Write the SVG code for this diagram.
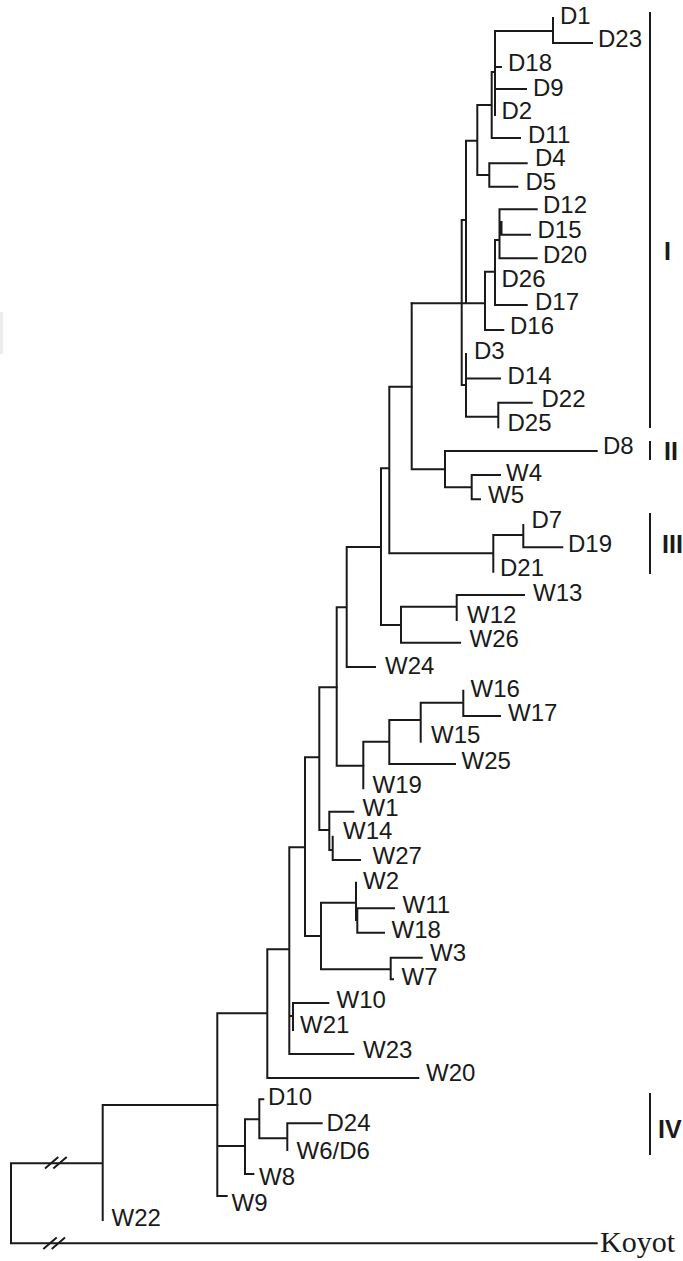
<svg xmlns="http://www.w3.org/2000/svg" width="683" height="1261" viewBox="0 0 683 1261">
<style>
.ln{fill:none;stroke:#1a1a1a;stroke-width:2;stroke-linecap:square}
.bar{fill:none;stroke:#1a1a1a;stroke-width:2}
.t{font-family:"Liberation Sans",Arial,sans-serif;font-size:24px;fill:#1a1a1a}
.k{font-family:"Liberation Serif","Times New Roman",serif;font-size:30px;fill:#1a1a1a}
.r{font-family:"Liberation Sans",Arial,sans-serif;font-size:25px;font-weight:bold;fill:#1a1a1a}
</style>
<rect x="0" y="312" width="3" height="42" fill="#ececec"/>
<g id="connectors" class="ln">
<path d="M553,18V43M553,43H592M495,31H553M495,31V115M495,67H501M495,89H526M491.7,72V138M491.7,72H495M491.7,138H520M477.3,105H491.7M477.3,105V175M477.3,175H489.3M489.3,163.3V186.7M489.3,163.3H526.7M489.3,186.7H517.3M466,140.7H477.3M466,140.7V303.3M411.7,303.3H485M461.7,220V385M461.7,220H466M461.7,385H466M485,271.7V330M485,330H503.3M485,271.7H495M495,240V305M495,305H526.7M495,240H499.5M499.5,209.3V258.3M499.5,209.3H536.7M499.5,258.3H536.7M499.5,234.7H530M501.5,222V234M466,354V416.7M466,378.5H500M466,416.7H498.3M498.3,402.7V427.3M498.3,402.7H531.7"/>
<path d="M411.7,303.3V469.3M411.7,469.3H445M445,451V487.3M445,451H596.7M445,487.3H471.7M471.7,475V499.3M471.7,475H500M471.7,499.3H480"/>
<path d="M389.3,386.7H411.7M389.3,386.7V553.3M389.3,553.3H493.3M493.3,535V571.7M493.3,535H523.3M523.3,525V547.3M523.3,547.3H562.3M381,468.3H389.3M381,468.3V625M381,625H401M401,606.7V642.7M401,606.7H456.7M401,642.7H460M456.7,595V620M456.7,595H524M346.7,547H381M346.7,547V667M346.7,667H375M336.7,607.3H346.7M336.7,607.3V765.7M336.7,765.7H363.3"/>
<path d="M363.3,741.7V788.3M363.3,741.7H389.3M389.3,720V764M389.3,764H455M389.3,720H420.7M420.7,702.7V741.7M420.7,702.7H463.3M463.3,690.7V716M463.3,716H500"/>
<path d="M319.3,687.3H336.7M319.3,687.3V830M319.3,830H329.3M329.3,811.7V850M329.3,811.7H353.3M329.3,850H332.7M332.7,836.7V860M332.7,860H360M305,757.3H319.3M305,757.3V936M305,936H321M321,902.7V969.3M321,902.7H356M321,969.3H390.7M356,882.7V920M357.3,908.3V932.7M357.3,908.3H394M357.3,932.7H384M390.7,957.7V979.3M390.7,957.7H421.7M390.7,979.3H393"/>
<path d="M289.3,847.3H305M289.3,847.3V1054M289.3,1054H353.3M289.3,1016H293M293,1003V1030M293,1003H328.3M267.3,949.3H289.3M267.3,949.3V1078M267.3,1078H418.3M217.3,1013.3H267.3M217.3,1013.3V1196M217.3,1196H226.7M217.3,1146H245M245,1119.3V1174M245,1174H253.3M245,1119.3H259.3M259.3,1099.3V1138.3M259.3,1099.3H263.3M259.3,1138.3H287.3M287.3,1123.3V1150M287.3,1123.3H321.7"/>
<path d="M102.7,1105H217.3M102.7,1105V1220M11,1163.3H102.7M11,1163.3V1243.3M11,1243.3H596.7"/>
<path d="M45,1168.5L58.3,1157M53.3,1168.5L66.7,1157M43.3,1249L56.7,1237.5M51.7,1249L65,1237.5" stroke-linecap="butt"/>
</g>
<g id="clade-I"><path class="bar" d="M650,12V428"/><text class="r" x="664" y="260">I</text></g>
<g id="clade-II"><path class="bar" d="M650,441V460"/><text class="r" x="664" y="460">II</text></g>
<g id="clade-III"><path class="bar" d="M650,513V574"/><text class="r" x="662" y="553">III</text></g>
<g id="clade-IV"><path class="bar" d="M650,1093V1155"/><text class="r" x="658" y="1138" font-size="24">IV</text></g>
<g id="D1"><text class="t" x="560" y="24">D1</text></g>
<g id="D23"><text class="t" x="598" y="47">D23</text></g>
<g id="D18"><text class="t" x="508" y="70.5">D18</text></g>
<g id="D9"><text class="t" x="533" y="95.5">D9</text></g>
<g id="D2"><text class="t" x="501.5" y="119">D2</text></g>
<g id="D11"><text class="t" x="528" y="142.5">D11</text></g>
<g id="D4"><text class="t" x="535" y="165.5">D4</text></g>
<g id="D5"><text class="t" x="525.5" y="189.5">D5</text></g>
<g id="D12"><text class="t" x="543" y="213">D12</text></g>
<g id="D15"><text class="t" x="537.5" y="238">D15</text></g>
<g id="D20"><text class="t" x="543" y="262.5">D20</text></g>
<g id="D26"><text class="t" x="501.5" y="286.5">D26</text></g>
<g id="D17"><text class="t" x="535" y="310">D17</text></g>
<g id="D16"><text class="t" x="510" y="334">D16</text></g>
<g id="D3"><text class="t" x="474" y="358.5">D3</text></g>
<g id="D14"><text class="t" x="507.5" y="384">D14</text></g>
<g id="D22"><text class="t" x="541.5" y="406.5">D22</text></g>
<g id="D25"><text class="t" x="507.5" y="430.5">D25</text></g>
<g id="D8"><text class="t" x="603" y="454">D8</text></g>
<g id="W4"><text class="t" x="506" y="480.5">W4</text></g>
<g id="W5"><text class="t" x="488" y="502.5">W5</text></g>
<g id="D7"><text class="t" x="531.5" y="527.5">D7</text></g>
<g id="D19"><text class="t" x="568" y="551.5">D19</text></g>
<g id="D21"><text class="t" x="500" y="575.5">D21</text></g>
<g id="W13"><text class="t" x="533" y="600.5">W13</text></g>
<g id="W12"><text class="t" x="467" y="623">W12</text></g>
<g id="W26"><text class="t" x="469.5" y="646.5">W26</text></g>
<g id="W24"><text class="t" x="385" y="673.5">W24</text></g>
<g id="W16"><text class="t" x="470.5" y="696.5">W16</text></g>
<g id="W17"><text class="t" x="508" y="720.5">W17</text></g>
<g id="W15"><text class="t" x="431" y="742.5">W15</text></g>
<g id="W25"><text class="t" x="461.5" y="768.5">W25</text></g>
<g id="W19"><text class="t" x="372.5" y="792.5">W19</text></g>
<g id="W1"><text class="t" x="362.5" y="815.5">W1</text></g>
<g id="W14"><text class="t" x="343" y="839">W14</text></g>
<g id="W27"><text class="t" x="372.5" y="864">W27</text></g>
<g id="W2"><text class="t" x="363" y="889">W2</text></g>
<g id="W11"><text class="t" x="402.5" y="913">W11</text></g>
<g id="W18"><text class="t" x="391.5" y="937.5">W18</text></g>
<g id="W3"><text class="t" x="430" y="960.5">W3</text></g>
<g id="W7"><text class="t" x="401.5" y="985">W7</text></g>
<g id="W10"><text class="t" x="336.5" y="1007.5">W10</text></g>
<g id="W21"><text class="t" x="300" y="1033">W21</text></g>
<g id="W23"><text class="t" x="363" y="1057.5">W23</text></g>
<g id="W20"><text class="t" x="426" y="1080.5">W20</text></g>
<g id="D10"><text class="t" x="268" y="1105">D10</text></g>
<g id="D24"><text class="t" x="326.5" y="1130.5">D24</text></g>
<g id="W6-D6"><text class="t" x="296.5" y="1159">W6/D6</text></g>
<g id="W8"><text class="t" x="259" y="1185">W8</text></g>
<g id="W9"><text class="t" x="231.5" y="1210.5">W9</text></g>
<g id="W22"><text class="t" x="111.5" y="1225.5">W22</text></g>
<g id="Koyot"><text class="k" x="600" y="1252">Koyot</text></g>
</svg>
